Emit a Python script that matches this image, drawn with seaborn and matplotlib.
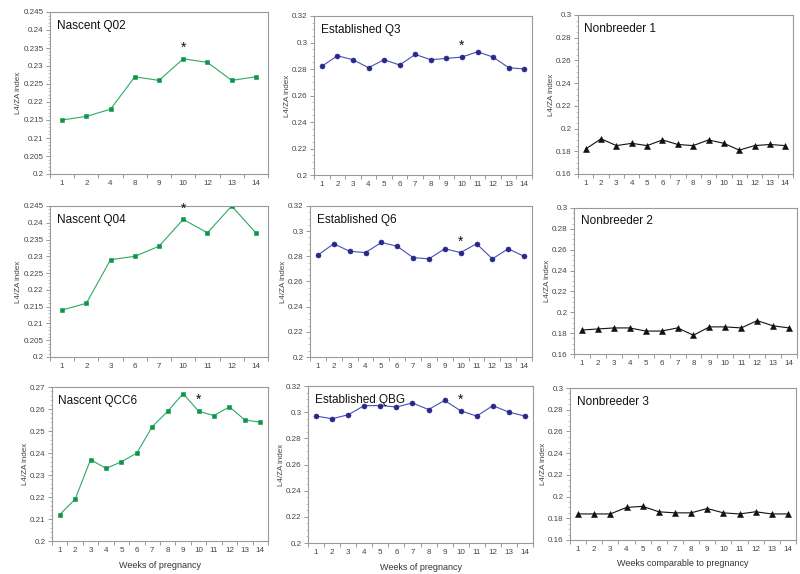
import matplotlib
matplotlib.use("Agg")
import matplotlib.pyplot as plt
import seaborn as sns
import pandas as pd
import numpy as np
from matplotlib.ticker import MultipleLocator, FixedLocator

sns.set_theme(style="white")
plt.rcParams['font.family'] = ['Liberation Sans', 'DejaVu Sans']

weeks14 = [str(w) for w in range(1, 15)]

q02_weeks = ['1', '2', '4', '8', '9', '10', '12', '13', '14']
q02_vals = [0.215, 0.216, 0.218, 0.227, 0.226, 0.232, 0.231, 0.226, 0.227]

q3_vals = [0.282, 0.290, 0.287, 0.281, 0.287, 0.283, 0.291, 0.287, 0.288, 0.289, 0.293, 0.289, 0.281, 0.280]

nb1_vals = [0.182, 0.191, 0.185, 0.187, 0.185, 0.190, 0.186, 0.185, 0.190, 0.187, 0.181, 0.185, 0.186, 0.185]

q04_weeks = ['1', '2', '3', '6', '7', '10', '11', '12', '14']
q04_vals = [0.214, 0.216, 0.229, 0.230, 0.233, 0.241, 0.237, 0.245, 0.237]

q6_vals = [0.281, 0.290, 0.284, 0.283, 0.291, 0.288, 0.279, 0.278, 0.286, 0.283, 0.290, 0.278, 0.286, 0.280]

nb2_vals = [0.183, 0.184, 0.185, 0.185, 0.182, 0.182, 0.185, 0.178, 0.186, 0.186, 0.185, 0.192, 0.187, 0.185]

qcc6_vals = [0.212, 0.219, 0.237, 0.233, 0.236, 0.240, 0.252, 0.259, 0.267, 0.259, 0.257, 0.261, 0.255, 0.254]

qbg_vals = [0.297, 0.295, 0.298, 0.305, 0.305, 0.304, 0.307, 0.302, 0.309, 0.301, 0.297, 0.305, 0.300, 0.297]

nb3_vals = [0.184, 0.184, 0.184, 0.190, 0.191, 0.186, 0.185, 0.185, 0.189, 0.185, 0.184, 0.186, 0.184, 0.184]

titles = ["Nascent Q02", "Established Q3", "Nonbreeder 1",
          "Nascent Q04", "Established Q6", "Nonbreeder 2",
          "Nascent QCC6", "Established QBG", "Nonbreeder 3"]

GREEN_M, GREEN_L = '#0b9648', '#2fa865'
BLUE_M, BLUE_L = '#27288c', '#4b4db0'
BLACK = '#111111'

W, H = 800, 574
fig = plt.figure(figsize=(8, 5.74), dpi=100)

def add_ax(l, t, r, b):
    return fig.add_axes([l / W, 1 - b / H, (r - l) / W, (b - t) / H])

panels = [
    ((50, 12, 268, 174), q02_weeks, q02_vals, 'nascent', (0.2, 0.245), 0.005, 0.001, True, None),
    ((314, 16, 532, 175), weeks14, q3_vals, 'est', (0.2, 0.32), 0.02, 0.005, True, None),
    ((578, 15, 793, 174), weeks14, nb1_vals, 'nb', (0.16, 0.30), 0.02, 0.005, False, None),
    ((50, 206, 268, 357), q04_weeks, q04_vals, 'nascent', (0.2, 0.245), 0.005, 0.001, True, None),
    ((310, 206, 532, 357), weeks14, q6_vals, 'est', (0.2, 0.32), 0.02, 0.005, True, None),
    ((574, 208, 797, 354), weeks14, nb2_vals, 'nb', (0.16, 0.30), 0.02, 0.005, False, None),
    ((52, 387, 268, 541), weeks14, qcc6_vals, 'nascent', (0.2, 0.27), 0.01, 0.002, True, "Weeks of pregnancy"),
    ((308, 386, 533, 543), weeks14, qbg_vals, 'est', (0.2, 0.32), 0.02, 0.005, True, "Weeks of pregnancy"),
    ((570, 388, 796, 540), weeks14, nb3_vals, 'nb', (0.16, 0.30), 0.02, 0.005, False, "Weeks comparable to pregnancy"),
]

styles = {
    'nascent': dict(marker='s', mc=GREEN_M, lc=GREEN_L, ms=3.4),
    'est': dict(marker='o', mc=BLUE_M, lc=BLUE_L, ms=3.6),
    'nb': dict(marker='^', mc=BLACK, lc=BLACK, ms=3.8),
}

def fmt(v):
    s = ('%.3f' % v).rstrip('0').rstrip('.')
    return s

for (box, wk, vals, st, ylim, ymaj, ymin, star, xlabel), title in zip(panels, titles):
    ax = add_ax(*box)
    s = styles[st]
    df = pd.DataFrame({'pos': np.arange(len(wk)), 'week': wk, 'val': vals})
    sns.lineplot(data=df, x='pos', y='val', ax=ax, color=s['lc'], lw=0.8,
                 marker=s['marker'], markersize=s['ms'], markerfacecolor=s['mc'],
                 markeredgecolor=s['mc'], markeredgewidth=0.4)
    ax.set_xlim(-0.5, len(wk) - 0.5)
    ax.set_ylim(*ylim)
    ax.xaxis.set_major_locator(FixedLocator(list(range(len(wk)))))
    ax.set_xticklabels(wk)
    ax.xaxis.set_minor_locator(FixedLocator([i + 0.5 for i in range(-1, len(wk))]))
    yt = np.round(np.arange(ylim[0], ylim[1] + 1e-9, ymaj), 4)
    ax.yaxis.set_major_locator(FixedLocator(list(yt)))
    ax.set_yticklabels([fmt(v) for v in yt])
    ax.yaxis.set_minor_locator(MultipleLocator(ymin))
    ax.tick_params(axis='x', which='major', length=0, labelsize=5.8, labelcolor='#444444', pad=4)
    ax.tick_params(axis='x', which='minor', length=3, width=0.6, color='#888888', direction='out', bottom=True)
    ax.tick_params(axis='y', which='major', length=3, width=0.6, color='#888888', direction='out',
                   labelsize=5.8, labelcolor='#444444', left=True, pad=1.5)
    ax.tick_params(axis='y', which='minor', length=1.5, width=0.5, color='#aaaaaa', direction='out', left=True)
    for sp in ax.spines.values():
        sp.set_color('#999999')
        sp.set_linewidth(0.8)
    ax.set_ylabel("L4/ZA index", fontsize=5.8, color='#444444', labelpad=1)
    if xlabel:
        ax.set_xlabel(xlabel, fontsize=6.5, color='#333333', labelpad=5)
    else:
        ax.set_xlabel("")
    ax.text(0.03, 0.95, title, transform=ax.transAxes, fontsize=8.5, va='top', ha='left', color='#111111')
    if star:
        i10 = wk.index('10')
        ax.annotate('*', xy=(i10, vals[i10]), xytext=(0, 8), textcoords='offset points',
                    ha='center', va='center', fontsize=10, color='#111111')
    ax.grid(False)

fig.savefig("out.png", dpi=100)
